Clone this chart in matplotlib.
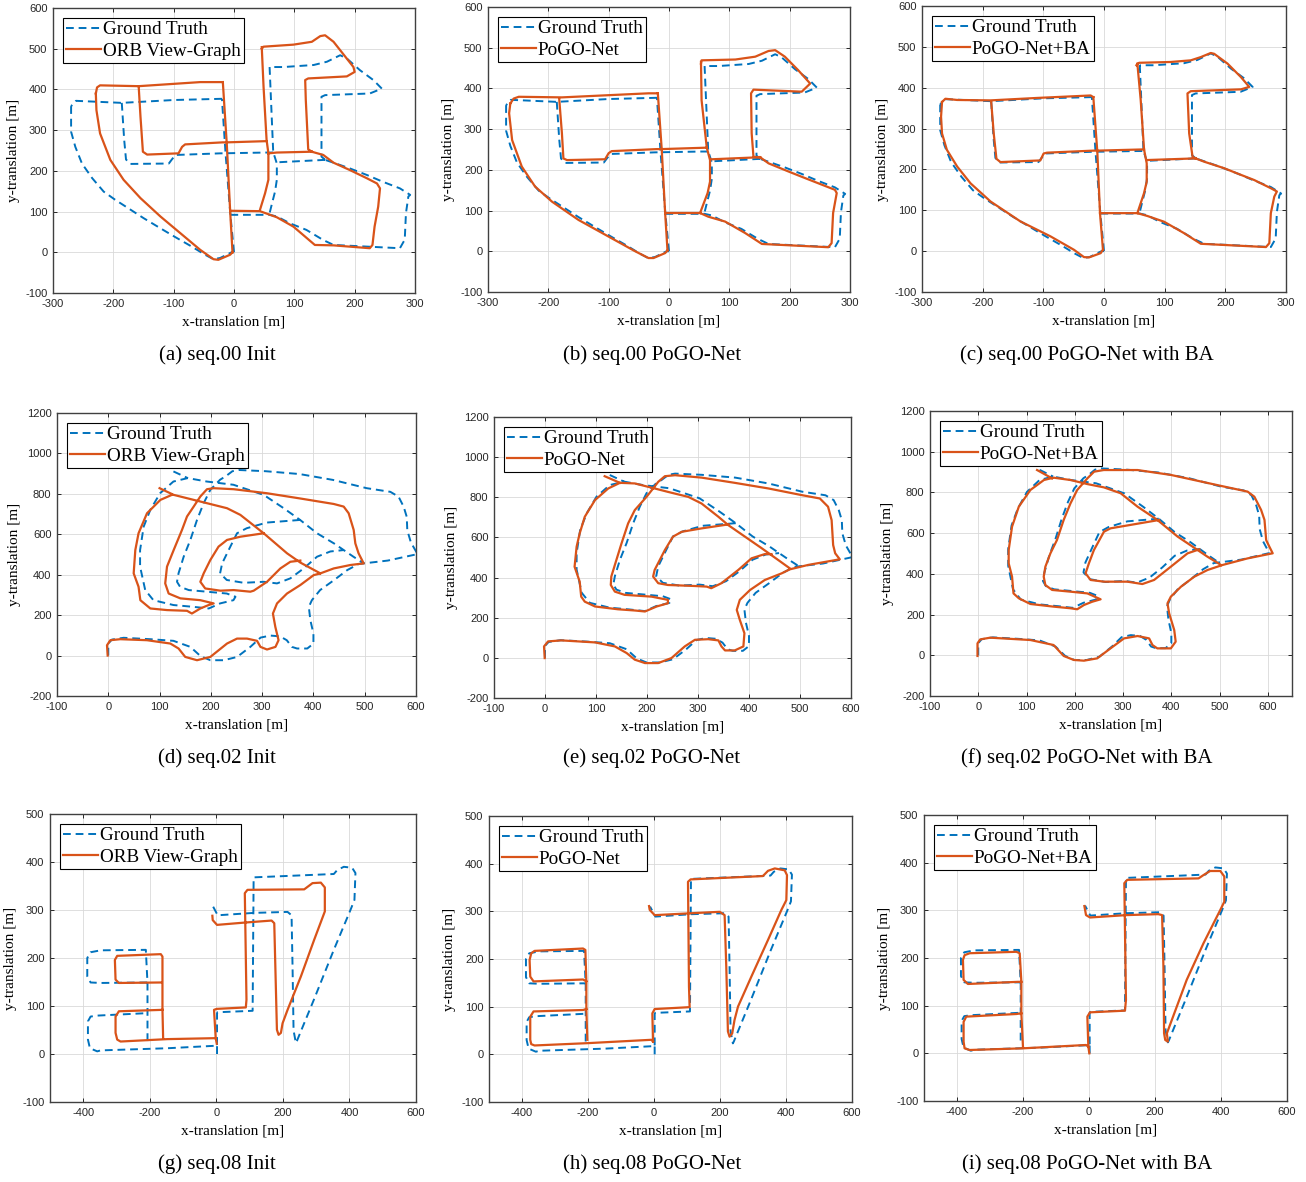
import numpy as np
import matplotlib.pyplot as plt

plt.rcParams["axes.unicode_minus"] = False

# trajectories in metres, each list = branches of the track (x, y)
gt00 = [
    [(0, 0), (-6, 92), (-14, 243), (-20, 377)],
    [(-20, 377), (-100, 374), (-186, 367), (-262, 372), (-270, 359)],
    [(-270, 359), (-270, 296), (-263, 259), (-252, 218), (-235, 182), (-216, 149), (-197, 129),
     (-175, 108), (-150, 84), (-122, 59), (-97, 37), (-70, 14), (-48, -6), (-34, -17), (-23, -14),
     (-4, 0), (0, 0)],
    [(-186, 367), (-182, 276), (-179, 228), (-172, 217), (-108, 218), (-103, 228), (-97, 239),
     (-23, 243), (54, 245), (65, 245)],
    [(59, 455), (65, 246), (71, 218), (71, 178), (68, 149), (63, 120), (59, 96)],
    [(-6, 92), (59, 92), (71, 88), (93, 71), (120, 55), (148, 30), (165, 18), (275, 10), (283, 31),
     (285, 96), (289, 137), (292, 141), (275, 157), (247, 173), (220, 190), (192, 206), (165, 220),
     (151, 227)],
    [(151, 227), (71, 221)],
    [(151, 227), (145, 235), (145, 382), (151, 386), (225, 390), (245, 402), (231, 423), (209, 447),
     (187, 476), (176, 484), (154, 468), (132, 460), (82, 455), (59, 455)],
]
orb00 = [
    [(-2.5, 0), (-6.4, 102), (-12, 267), (-18.5, 418)],
    [(-18.5, 418), (-56, 418), (-158, 408), (-222, 410), (-227, 405), (-229, 390)],
    [(-229, 390), (-228, 349), (-222, 292), (-205, 227), (-183, 178), (-155, 133), (-122, 88),
     (-89, 47), (-56, 6), (-34, -17), (-26, -18.5), (-6.4, -6), (-2.5, 0)],
    [(-158, 408), (-155, 333), (-151, 247), (-144, 240), (-92, 243), (-86, 259), (-81, 265),
     (-18.5, 270), (-12, 270), (54, 273)],
    [(46, 504), (49, 406), (54, 276), (57, 243), (57, 178), (51.5, 145), (43, 104)],
    [(-6.4, 102), (43, 101), (71, 86), (98.5, 63), (134, 18), (165, 17), (225, 10), (229.5, 18),
     (233, 63), (239, 112), (242, 157), (237, 169), (220, 182), (192, 202), (165, 220), (148, 239),
     (129, 247)],
    [(129, 247), (71, 245), (57, 243)],
    [(129, 247), (123, 253), (119, 374), (118, 423), (123, 427), (187, 432), (200, 443), (198, 455),
     (165, 517), (151, 533), (143, 531), (129, 517), (98.5, 510), (49, 505), (46, 500)],
]
pogo00 = [
    [(-2.5, 2), (-6.4, 94), (-12, 249), (-18.5, 388)],
    [(-18.5, 388), (-34, 388), (-177.5, 378), (-249, 379.5), (-257.5, 375), (-263, 363)],
    [(-263, 363), (-265, 339), (-260, 273), (-244, 208), (-222, 159), (-194, 122), (-150, 77),
     (-100, 36), (-56, 0), (-34, -16.6), (-25.7, -16.6), (-6.4, -4.4), (-2.5, 2)],
    [(-182, 375), (-177.5, 290), (-175, 228), (-169, 224), (-106, 226), (-100, 241), (-95, 246),
     (-20, 251), (-12, 251), (62.6, 254.5)],
    [(53, 465), (54, 371), (62.6, 254.5), (68, 224), (68, 171), (64, 143), (51.5, 94)],
    [(-6.4, 94), (51.5, 94), (65, 85), (93, 73), (126, 45), (154, 18), (264, 10), (269.5, 20),
     (272, 94), (278, 143), (275, 151), (247.5, 167), (220, 183), (198, 196), (165, 216), (151, 231)],
    [(151, 231), (71, 226)],
    [(151, 231), (140, 232), (137, 290), (136, 388), (140, 397), (220, 392), (234, 412), (214, 445),
     (192, 478), (176, 494), (165, 492), (143, 478), (110, 471), (54, 469), (53, 461)],
]
ba00 = [
    [(-1.7, 3.3), (-6.6, 93), (-11, 243), (-17.6, 377)],
    [(-17.6, 377), (-22, 381), (-110, 375), (-187, 369), (-242, 370), (-261.5, 373), (-267, 365)],
    [(-267, 365), (-268.6, 329), (-267, 288), (-259, 248), (-242, 207), (-220, 166), (-187, 121.5),
     (-137.6, 72.6), (-88, 36), (-49.5, 3.3), (-33, -14.6), (-24.8, -15.4), (-5.5, -4.9), (-1.7, 3.3)],
    [(-186, 367), (-181.7, 287), (-177.3, 226), (-170.7, 218), (-105, 222), (-99.5, 239), (-94, 241),
     (-18, 246), (-11, 246), (66, 249)],
    [(55, 459), (60.5, 370), (66, 249), (70.4, 215), (70.4, 170), (66, 142), (55, 93)],
    [(-6.6, 93), (55, 93), (71.6, 86), (99, 72), (132, 44), (159.6, 18), (267, 10), (272.5, 19.5),
     (275, 93), (280.7, 133.5), (285, 146), (275, 154), (247.7, 174), (220, 190), (198, 203),
     (165, 219), (151, 227)],
    [(151, 227), (71.6, 223)],
    [(151, 227), (146, 231), (140.4, 288), (137.6, 386), (143, 391.5), (225.7, 396), (239.4, 402),
     (225.7, 426), (203.6, 459), (181.6, 483), (176, 485), (159.6, 475), (143, 467), (110, 463),
     (57.8, 461), (53.4, 455)],
]

gt02 = [
    [(0, 0), (0, 59.5), (7, 79), (30, 88), (82, 81), (127, 73), (160, 43), (180, -3), (199, -23),
     (225, -23), (251, -7), (277, 43), (297, 89), (316, 99), (335, 95), (348, 76), (358, 43),
     (368, 35), (388, 35), (400, 59), (400, 109), (394, 175), (391, 241), (397, 274), (413, 324),
     (440, 373), (466, 423), (488, 453), (498, 456), (545, 470), (603, 502), (590, 560), (583, 620),
     (582, 686), (576, 736), (566, 786), (550, 810), (504, 828), (438, 869), (373, 898), (307, 912),
     (255, 918), (242, 912), (229, 887), (218, 870), (199, 820), (186, 754), (173, 671), (160, 572),
     (147, 489), (137, 407), (134, 365), (140, 340), (157, 324), (192, 316), (231, 307), (248, 291),
     (244, 274), (218, 258), (196, 233), (166, 241), (127, 250), (88, 274), (72, 324), (62, 440),
     (62, 522), (69, 638), (82, 721), (101, 803), (127, 861), (155, 878), (192, 861), (244, 845),
     (303, 795), (342, 729), (374, 671), (407, 605), (440, 555), (459, 522), (478, 489), (498, 456)],
    [(374, 671), (309, 658), (270, 630), (251, 605), (238, 539), (222, 456), (218, 407), (231, 374),
     (264, 360), (303, 365), (329, 357), (355, 382), (381, 431), (407, 489), (433, 515), (459, 522)],
    [(127, 911), (155, 878)],
]
orb02 = [
    [(-1.2, 0), (-2.5, 51), (4, 76), (23.5, 81), (75.5, 76), (121, 59.5), (137, 35), (150, -6.6),
     (173, -23), (199, -6.6), (231.5, 59.5), (251, 84), (270.5, 84), (290, 73), (296.7, 43),
     (309.5, 30), (326, 43), (332, 76), (325.7, 142), (321, 208), (329, 258), (348.5, 307),
     (374.5, 349), (400.5, 398), (413.5, 406.6), (439.5, 431), (472, 448), (498, 456), (488, 506),
     (481.7, 555), (478.5, 621.5), (468.7, 704), (459, 737), (439.5, 750), (374.5, 777), (309.5, 803),
     (244.5, 823), (205.5, 828), (192.5, 823), (179.5, 787), (166.5, 737), (153.5, 688),
     (143.7, 621.5), (127.5, 522), (114.5, 440), (111, 357), (117.7, 307), (140.5, 283),
     (179.5, 274), (205.5, 258), (195.7, 250), (179.5, 233), (163, 208), (153.5, 221.5),
     (114.5, 225), (82, 233), (62.5, 274), (59, 340.5), (49.5, 406.6), (52.7, 522), (59, 605),
     (75.5, 704), (101.5, 770), (124, 795)],
    [(100, 828), (127.5, 795), (179.5, 762), (231.5, 729), (257.5, 696), (303, 605), (348.5, 506),
     (374.5, 460), (413.5, 406.6)],
    [(303, 605), (257.5, 588), (231.5, 572), (215, 539), (199, 473), (186, 406.6), (179.5, 365),
     (189, 332), (218.5, 321), (244.5, 324), (277, 316), (283.5, 321), (309.5, 365), (335.5, 431),
     (355, 464), (374.5, 470)],
]
pogo02 = [
    [(-0.6, -1.2), (-1.9, 57), (6, 82), (32, 87), (98, 77), (137, 57), (160, 24), (176, -9),
     (196, -26), (222, -26), (248, -1), (274, 57), (294, 90), (320, 93), (340, 87), (346, 57),
     (353, 37), (372, 37), (389, 57), (391, 123), (382, 189), (376, 239), (382, 289), (402, 338),
     (431, 388), (464, 421), (480, 441), (516, 463), (578, 491), (569, 521), (565, 562), (562, 686),
     (555, 753), (539, 794), (503, 811), (438, 844), (372, 872), (307, 898), (255, 910), (235, 905),
     (222, 877), (212, 844), (199, 802), (176, 736), (163, 670), (150, 570), (140, 488), (130, 405),
     (129, 363), (137, 330), (156, 314), (209, 305), (241, 289), (241, 272), (219, 256), (196, 231),
     (176, 236), (143, 242), (98, 256), (78, 280), (71, 305), (68, 380), (58, 454), (62, 554),
     (68, 620), (78, 703), (98, 786), (124, 844), (147, 872), (176, 869), (215, 844), (241, 827),
     (281, 802), (307, 769), (340, 703), (359, 662), (392, 604), (425, 546), (457, 488), (480, 446)],
    [(360, 665), (307, 645), (268, 628), (251, 604), (235, 537), (215, 438), (212, 405), (222, 372),
     (241, 363), (294, 358), (317, 355), (326, 347), (346, 372), (379, 438), (405, 496), (431, 517),
     (444, 517)],
    [(117, 905), (147, 872)],
]
ba02 = [
    [(-1.6, -3.3), (-1.6, 58.6), (4, 78), (24.7, 86.5), (108, 75), (156, 50.5), (177, -3.3),
     (198, -23), (219, -26.5), (246.5, -15), (274, 34), (302, 83), (330, 94.6), (354, 83), (361, 50),
     (371, 34), (399, 34), (409, 67), (406, 124), (395.5, 206), (392, 255), (399, 288), (420, 337),
     (447.5, 386), (475, 419), (506, 443.5), (558, 476), (610, 501), (603, 534), (596.5, 566),
     (593, 665), (586, 714), (572, 779), (558, 804), (503, 832), (399, 886), (330, 910), (260, 910),
     (240, 902), (226, 869), (205, 812), (191, 746), (177, 665), (163, 566), (149.5, 501), (139, 435),
     (135.6, 386), (139, 345), (153, 321), (191, 312.5), (226, 304), (253.5, 275), (236, 263),
     (219, 247), (205, 226), (191, 231), (156, 239), (108, 252), (84, 280), (73, 304), (70, 386),
     (63, 452), (63, 517), (70, 632), (84, 730), (108, 812), (136, 861), (156, 872.5), (191, 861),
     (226, 841), (260, 825), (295, 796), (330, 730), (371, 665), (413, 583), (454.5, 517),
     (475, 484), (503, 443.5)],
    [(374.7, 664.6), (302, 635), (274, 623.6), (260.4, 607), (239.6, 517), (229.2, 451.7),
     (222.3, 402.6), (232.7, 370), (260.4, 361.6), (309, 361.6), (340, 350), (364.3, 370),
     (399, 435.3), (433.6, 500.8), (458, 520.4)],
    [(121.8, 910), (153, 869)],
]

gt08 = [
    [(2, 0), (2, 19), (-7, 17), (-147, 12), (-348, 7.5), (-358, 5.5), (-380, 12), (-386, 30),
     (-386, 68), (-378, 78), (-358, 80), (-212, 85)],
    [(-207, 27), (-207, 148), (-212, 217), (-348, 216), (-378, 212), (-388, 200), (-388, 162),
     (-378, 149), (-348, 148), (-207, 149)],
    [(2, 19), (2, 85), (4, 87), (109, 90), (112, 368), (353, 375), (363, 383), (383, 390), (408, 388),
     (418, 377), (415, 321), (403, 300), (353, 217), (293, 113), (252, 44), (242, 27), (239, 23),
     (232, 49), (229, 181), (226, 289), (214, 296), (113, 294), (4, 289), (-12, 310)],
]
orb08 = [
    [(1.2, 21.4), (-2, 33), (-147, 31), (-288, 26), (-298, 30), (-303, 44), (-303, 78), (-293, 89),
     (-162, 92)],
    [(-160, 33), (-162, 92), (-162, 149), (-162, 203), (-167, 208), (-298, 204.5), (-305, 196),
     (-303, 155), (-293, 148), (-167, 149)],
    [(-2, 33), (-7, 92), (1, 94), (88.5, 97), (90.5, 113), (85.5, 335), (93.5, 342), (264, 343),
     (289, 356), (314, 357), (326, 347), (326, 297), (294, 238), (254, 161.5), (214, 92), (199, 64),
     (194, 44), (187, 40), (182, 50.5), (174, 272.5), (166, 278), (88.5, 274), (2, 269), (-11, 279),
     (-12, 288)],
]
pogo08 = [
    [(-3, 27), (-8, 30.5), (-200, 23.5), (-362, 18.6), (-372, 21.4), (-375, 30.5), (-375, 79),
     (-365, 90), (-215, 93), (-205, 95)],
    [(-202, 30.5), (-205, 95), (-205, 153), (-208, 219), (-215, 222), (-362, 217), (-372, 212),
     (-377, 198), (-375, 163), (-365, 153), (-215, 157), (-205, 153)],
    [(-3, 27), (-5, 86), (2, 95), (108, 99), (106, 142), (103, 362), (111, 367), (330, 374),
     (345.5, 385), (366, 390), (396, 386), (403, 376), (401, 323.5), (386, 303), (345.5, 240),
     (295, 163), (254.5, 100), (244, 72), (237, 44), (229, 37), (224, 48), (219, 184), (214, 292),
     (199, 299), (113, 296), (2, 292), (-13, 303), (-15, 311)],
]
ba08 = [
    [(1, 0), (-2, 14), (-9, 17.5), (-200, 10.5), (-361.5, 7), (-377, 10.5), (-380, 24.5), (-380, 66),
     (-372, 77), (-220, 82.5), (-205, 84)],
    [(-200, 12.6), (-205, 84), (-205, 150), (-210, 210), (-220, 213), (-361.5, 210), (-377, 206),
     (-382, 196), (-380, 154), (-367, 145.5), (-215, 150), (-205, 150)],
    [(-2, 14), (-5, 77), (3, 86), (109, 89.5), (112, 112), (107, 357), (116, 364), (332, 367),
     (347, 374), (367, 382.5), (398, 382.5), (410, 371), (410, 318), (398, 301), (347, 231),
     (296, 154), (251, 70), (236, 42), (239, 24.5), (231, 28), (227.5, 42), (225.5, 182),
     (221.5, 290), (210, 292), (114, 290), (3, 285), (-9, 290), (-14, 309)],
]

captions = ["(a) seq.00 Init", "(b) seq.00 PoGO-Net", "(c) seq.00 PoGO-Net with BA",
            "(d) seq.02 Init", "(e) seq.02 PoGO-Net", "(f) seq.02 PoGO-Net with BA",
            "(g) seq.08 Init", "(h) seq.08 PoGO-Net", "(i) seq.08 PoGO-Net with BA"]
est_names = ["ORB View-Graph", "PoGO-Net", "PoGO-Net+BA"]

W, H = 1306, 1182
serif = "Liberation Serif"
blue = "#0072BD"
red = "#D95319"


def to_xy(segs):
    xs, ys = [], []
    for s in segs:
        xs += [p[0] for p in s] + [np.nan]
        ys += [p[1] for p in s] + [np.nan]
    return xs, ys


fig = plt.figure(figsize=(W / 100, H / 100), dpi=100)

# pixel boxes (left, right, top, bottom) of the nine axes
boxes = [(53, 415, 8, 293), (488, 850, 7, 292), (922, 1286, 6, 292),
         (57, 416, 413, 696), (494, 851, 417, 698), (930, 1292, 411, 696),
         (50, 416, 814, 1102), (489, 852, 816, 1102), (924, 1287, 815, 1101)]
rows = [(gt00, [orb00, pogo00, ba00]), (gt02, [orb02, pogo02, ba02]), (gt08, [orb08, pogo08, ba08])]
cap_y = [355, 758, 1164]

for r, (gt, ests) in enumerate(rows):
    for c in range(3):
        k = r * 3 + c
        l, rt, t, b = boxes[k]
        ax = fig.add_axes([l / W, 1 - b / H, (rt - l) / W, (b - t) / H])
        gx, gy = to_xy(gt)
        ex, ey = to_xy(ests[c])
        ax.plot(gx, gy, color=blue, lw=1.4, dashes=(4, 2.5), label="Ground Truth")
        ax.plot(ex, ey, color=red, lw=1.6, label=est_names[c], solid_joinstyle="round")
        if r == 0:
            ax.set_xlim(-300, 300); ax.set_ylim(-100, 600)
            ax.set_xticks(range(-300, 301, 100)); ax.set_yticks(range(-100, 601, 100))
        elif r == 1:
            ax.set_xlim(-100, 650 if c == 2 else 600); ax.set_ylim(-200, 1200)
            ax.set_xticks(range(-100, 601, 100)); ax.set_yticks(range(-200, 1201, 200))
        else:
            ax.set_xlim(-500, 600); ax.set_ylim(-100, 500)
            ax.set_xticks(range(-400, 601, 200)); ax.set_yticks(range(-100, 501, 100))
        ax.grid(True, color="#d9d9d9", lw=0.6)
        ax.set_axisbelow(True)
        ax.tick_params(direction="in", length=3, width=0.7, top=True, right=True,
                       labelsize=8, colors="#262626", pad=4)
        for lab in ax.get_xticklabels() + ax.get_yticklabels():
            lab.set_family("Liberation Sans")
        for sp in ax.spines.values():
            sp.set_color("#404040"); sp.set_linewidth(1.0)
        ax.set_xlabel("x-translation [m]", family=serif, fontsize=11, labelpad=5)
        ax.set_ylabel("y-translation [m]", family=serif, fontsize=11, labelpad=4)
        leg = ax.legend(loc="upper left", prop={"family": serif, "size": 13.8}, fancybox=False,
                        framealpha=1, edgecolor="black", borderpad=0.18, labelspacing=0.2,
                        handlelength=1.8, handletextpad=0.12, borderaxespad=0.5)
        leg.get_frame().set_linewidth(0.8)
        fig.text((217 + 435 * c) / W, 1 - cap_y[r] / H, captions[k], family=serif,
                 fontsize=15, ha="center", va="center")

fig.savefig("out.png", dpi=100)
